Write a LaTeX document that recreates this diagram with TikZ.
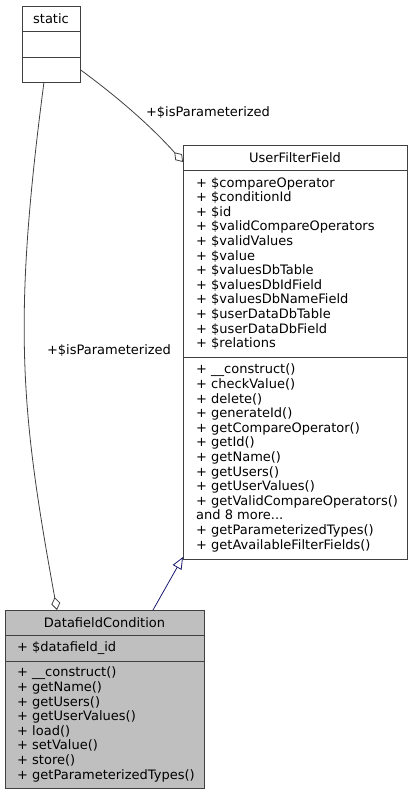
\documentclass[tikz,border=0pt]{standalone}
\usepackage{fontspec}
\setmainfont{DejaVu Sans}
\usetikzlibrary{arrows.meta,positioning}
\definecolor{boxline}{HTML}{404040}
\definecolor{focusfill}{HTML}{BFBFBF}
\definecolor{edgegray}{HTML}{404040}
\definecolor{inheritblue}{HTML}{191970}

\begin{document}
\begin{tikzpicture}[x=1pt,y=-1pt,
 part/.style={
      rectangle,
      draw=boxline,
      line width=1pt,
      outer sep=0pt,
      inner sep=0pt
   },
 members/.style={
      align=left,
      inner sep=0pt,
      font=\fontsize{13}{14.6}\selectfont
   },
 edgelabel/.style={
      inner sep=0pt,
      font=\fontsize{13}{14.6}\selectfont
   },
 aggr/.style={
      draw=edgegray,
      line width=0.8pt,
      -{Diamond[open,length=13pt,width=9pt]}
   },
 inherit/.style={
      draw=inheritblue,
      line width=0.8pt,
      -{Triangle[open,length=12pt,width=10pt]}
   }
 ]
 \useasboundingbox (0,0) rectangle (412,795);

 %static
 \node[part, minimum width=58pt, minimum height=25pt, font=\fontsize{13}{14.6}\selectfont] (sttitle) at (51,18.5) {static};
 \node[part, minimum width=58pt, minimum height=26pt, below=0pt of sttitle] (stmid) {};
 \node[part, minimum width=58pt, minimum height=25pt, below=0pt of stmid] (stbot) {};

 %UserFilterField
 \node[part, minimum width=224pt, minimum height=25pt, font=\fontsize{13}{14.6}\selectfont] (ufftitle) at (295,157.5) {UserFilterField};
 \node[part, minimum width=224pt, minimum height=187pt, below=0pt of ufftitle] (uffattr) {};
 \node[part, minimum width=224pt, minimum height=202pt, below=0pt of uffattr] (uffmeth) {};
 \node[members, right=13pt of uffattr.west] (uffattrtext) {+ \$compareOperator\\+ \$conditionId\\+ \$id\\+ \$validCompareOperators\\+ \$validValues\\+ \$value\\+ \$valuesDbTable\\+ \$valuesDbIdField\\+ \$valuesDbNameField\\+ \$userDataDbTable\\+ \$userDataDbField\\+ \$relations};
 \node[members, right=13pt of uffmeth.west] (uffmethtext) {+ \_\_construct()\\+ checkValue()\\+ delete()\\+ generateId()\\+ getCompareOperator()\\+ getId()\\+ getName()\\+ getUsers()\\+ getUserValues()\\+ getValidCompareOperators()\\and 8 more...\\+ getParameterizedTypes()\\+ getAvailableFilterFields()};

 %DatafieldCondition
 \node[part, fill=focusfill, minimum width=199pt, minimum height=25pt, font=\fontsize{13}{14.6}\selectfont] (dctitle) at (104.5,622.5) {DatafieldCondition};
 \node[part, fill=focusfill, minimum width=199pt, minimum height=26pt, below=0pt of dctitle] (dcattr) {};
 \node[part, fill=focusfill, minimum width=199pt, minimum height=127pt, below=0pt of dcattr] (dcmeth) {};
 \node[members, right=12pt of dcattr.west] (dcattrtext) {+ \$datafield\_id};
 \node[members, right=12pt of dcmeth.west] (dcmethtext) {+ \_\_construct()\\+ getName()\\+ getUsers()\\+ getUserValues()\\+ load()\\+ setValue()\\+ store()\\+ getParameterizedTypes()};

 %labels
 \node[edgelabel] (isparam1) at (208,113) {+\$isParameterized};
 \node[edgelabel] (isparam2) at (109,351) {+\$isParameterized};

 %edges
 \draw[aggr] (stbot.east) .. controls (115,95) and (150,125) .. ([yshift=-4.5pt]ufftitle.west);
 \draw[aggr] ([xshift=-7pt]stbot.south) .. controls (12,325) and (21,412) .. ([xshift=-47.5pt]dctitle.north);
 \draw[inherit] ([xshift=48.5pt]dctitle.north) -- ([yshift=2pt]uffmeth.south west);
\end{tikzpicture}
\end{document}
